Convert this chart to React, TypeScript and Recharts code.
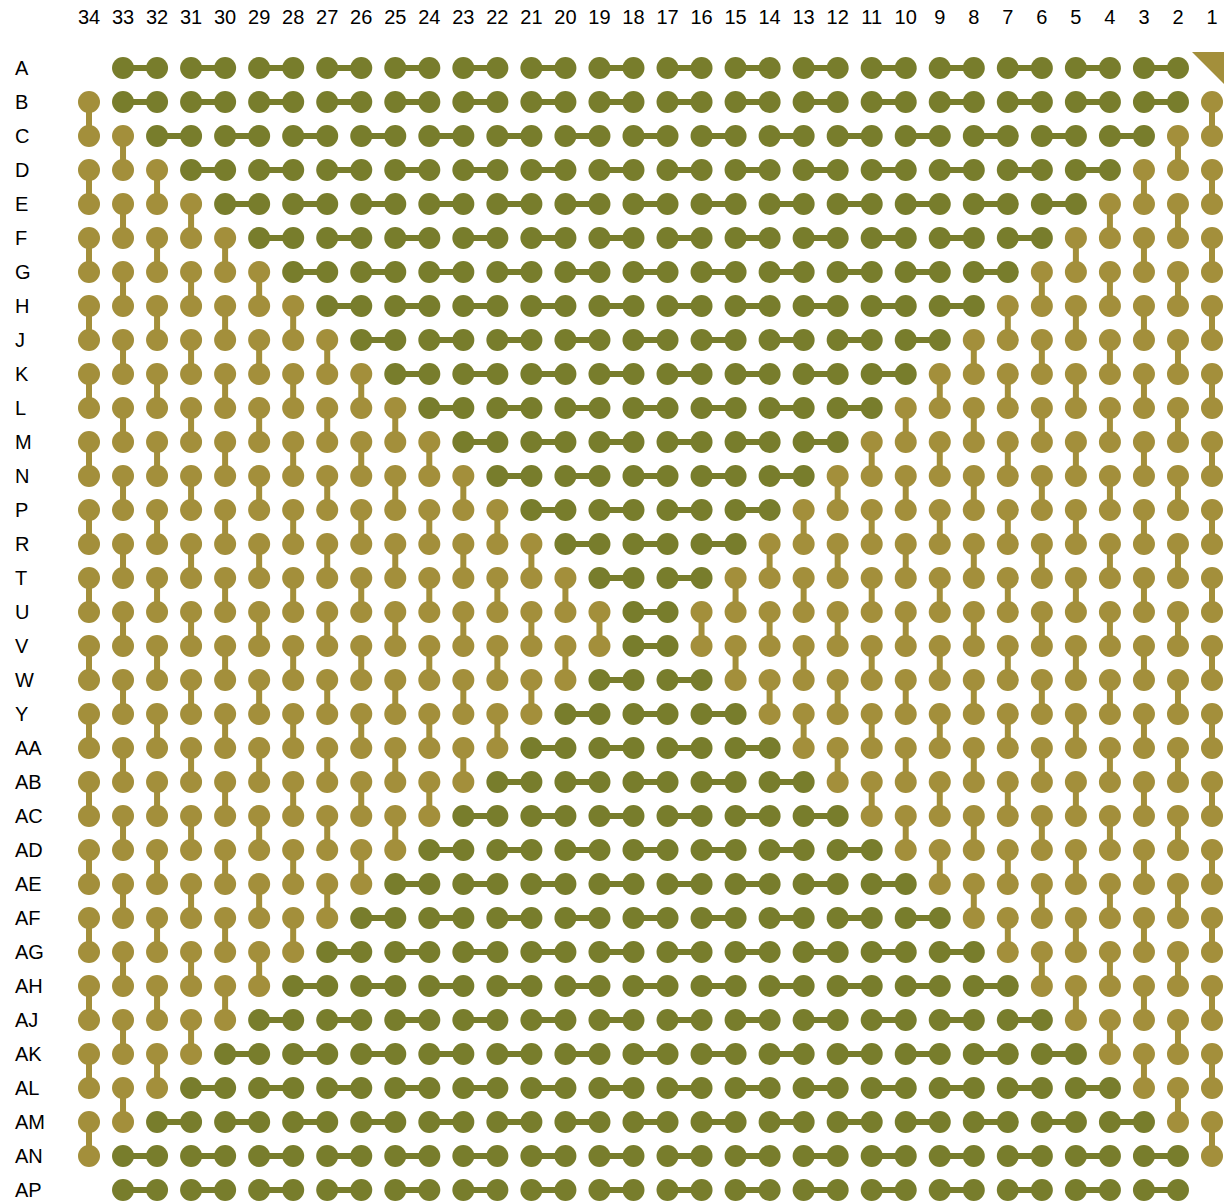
import React from "react";
import { ComposedChart, Line, Scatter, XAxis, YAxis } from "recharts";

const columnLabels = [
  "34", "33", "32", "31", "30", "29", "28", "27", "26", "25", "24", "23",
  "22", "21", "20", "19", "18", "17", "16", "15", "14", "13", "12", "11",
  "10", "9", "8", "7", "6", "5", "4", "3", "2", "1",
];

const rowLabels = [
  "A", "B", "C", "D", "E", "F", "G", "H", "J", "K", "L", "M", "N", "P", "R",
  "T", "U", "V", "W", "Y", "AA", "AB", "AC", "AD", "AE", "AF", "AG", "AH",
  "AJ", "AK", "AL", "AM", "AN", "AP",
];

// horizontal pairs: row, first column, last column
const rowRuns: [string, number, number][] = [
  ["A", 33, 2], ["B", 33, 2], ["C", 32, 3], ["D", 31, 4], ["E", 30, 5],
  ["F", 29, 6], ["G", 28, 7], ["H", 27, 8], ["J", 26, 9], ["K", 25, 10],
  ["L", 24, 11], ["M", 23, 12], ["N", 22, 13], ["P", 21, 14], ["R", 20, 15],
  ["T", 19, 16], ["U", 18, 17], ["V", 18, 17], ["W", 19, 16], ["Y", 20, 15],
  ["AA", 21, 14], ["AB", 22, 13], ["AC", 23, 12], ["AD", 24, 11], ["AE", 25, 10],
  ["AF", 26, 9], ["AG", 27, 8], ["AH", 28, 7], ["AJ", 29, 6], ["AK", 30, 5],
  ["AL", 31, 4], ["AM", 32, 3], ["AN", 33, 2], ["AP", 33, 2],
];

// vertical pairs: column, first row, last row
const columnRuns: [number, string, string][] = [
  [34, "B", "AN"], [33, "C", "AM"], [32, "D", "AL"], [31, "E", "AK"],
  [30, "F", "AJ"], [29, "G", "AH"], [28, "H", "AG"], [27, "J", "AF"],
  [26, "K", "AE"], [25, "L", "AD"], [24, "M", "AC"], [23, "N", "AB"],
  [22, "P", "AA"], [21, "R", "Y"], [20, "T", "W"], [19, "U", "V"],
  [16, "U", "V"], [15, "T", "W"], [14, "R", "Y"], [13, "P", "AA"],
  [12, "N", "AB"], [11, "M", "AC"], [10, "L", "AD"], [9, "K", "AE"],
  [8, "J", "AF"], [7, "H", "AG"], [6, "G", "AH"], [5, "F", "AJ"],
  [4, "E", "AK"], [3, "D", "AL"], [2, "C", "AM"], [1, "B", "AN"],
];

const pinOne = [{ column: 1, row: "A" }];

const GREEN = "#787d2c";
const GOLD = "#a38f3b";

const colIndex = (col: number) => columnLabels.indexOf(String(col));
const rowIndex = (row: string) => rowLabels.indexOf(row);

type Pt = { x: number; y: number | null };

const horizontalPairs: Pt[] = rowRuns.flatMap(([row, from, to]) => {
  const y = rowIndex(row);
  const pts: Pt[] = [];
  for (let x = colIndex(from); x < colIndex(to); x += 2) {
    pts.push({ x, y }, { x: x + 1, y }, { x: x + 1, y: null });
  }
  return pts;
});

const verticalPairs: Pt[] = columnRuns.flatMap(([col, from, to]) => {
  const x = colIndex(col);
  const pts: Pt[] = [];
  for (let y = rowIndex(from); y < rowIndex(to); y += 2) {
    pts.push({ x, y }, { x, y: y + 1 }, { x, y: null });
  }
  return pts;
});

const markerData = pinOne.map((p) => ({ x: colIndex(p.column), y: rowIndex(p.row) }));

const indexTicks = columnLabels.map((_, i) => i);

const Corner = (props: any) => {
  const { cx, cy } = props;
  return (
    <polygon
      points={`${cx - 20},${cy - 16} ${cx + 16},${cy - 16} ${cx + 16},${cy + 20}`}
      fill={GOLD}
    />
  );
};

export default function App() {
  return (
    <div style={{ position: "absolute", left: 0, top: 0, width: 1224, height: 1204, background: "#fff" }}>
      <ComposedChart
        width={1224}
        height={1204}
        margin={{ top: 38, right: 12, bottom: 14, left: 0 }}
        style={{ fontFamily: "'Liberation Sans', Arial, sans-serif" }}
      >
        <XAxis
          type="number"
          dataKey="x"
          orientation="top"
          domain={[0, 33]}
          ticks={indexTicks}
          interval={0}
          height={30}
          axisLine={false}
          tickLine={false}
          tickMargin={38}
          tickFormatter={(i: number) => columnLabels[i]}
          tick={{ fill: "#000", fontSize: 20 }}
        />
        <YAxis
          type="number"
          dataKey="y"
          reversed
          domain={[0, 33]}
          ticks={indexTicks}
          interval={0}
          width={89}
          axisLine={false}
          tickLine={false}
          tickMargin={68}
          tickFormatter={(i: number) => rowLabels[i]}
          tick={{ fill: "#000", fontSize: 20, textAnchor: "start" }}
        />
        <Line
          data={verticalPairs}
          dataKey="y"
          stroke={GOLD}
          strokeWidth={6}
          dot={{ r: 11, fill: GOLD, stroke: "none" }}
          activeDot={false}
          isAnimationActive={false}
        />
        <Line
          data={horizontalPairs}
          dataKey="y"
          stroke={GREEN}
          strokeWidth={6}
          dot={{ r: 11, fill: GREEN, stroke: "none" }}
          activeDot={false}
          isAnimationActive={false}
        />
        <Scatter data={markerData} dataKey="y" shape={Corner} isAnimationActive={false} />
      </ComposedChart>
    </div>
  );
}
